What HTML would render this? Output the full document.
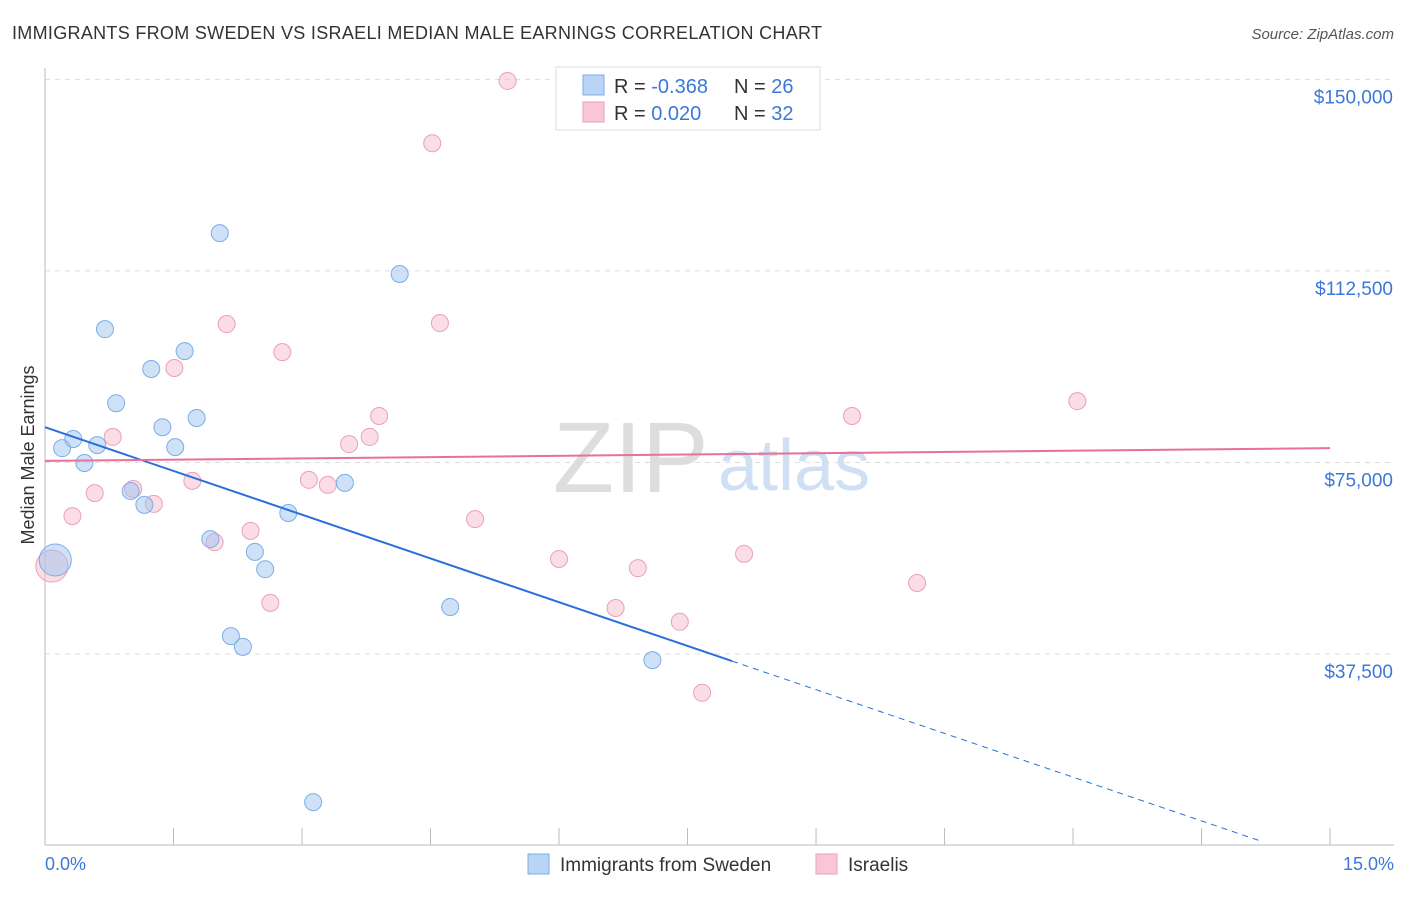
<!DOCTYPE html>
<html><head><meta charset="utf-8"><style>
body{margin:0;background:#fff;font-family:"Liberation Sans",sans-serif;}
svg text{font-family:"Liberation Sans",sans-serif;}
</style></head><body>
<svg id="c" width="1406" height="892" xmlns="http://www.w3.org/2000/svg">
<text x="12" y="39" font-size="18" fill="#333" textLength="810">IMMIGRANTS FROM SWEDEN VS ISRAELI MEDIAN MALE EARNINGS CORRELATION CHART</text>
<text x="1394" y="39" font-size="15" fill="#555" font-style="italic" text-anchor="end">Source: ZipAtlas.com</text>
<text x="553" y="492" font-size="100" fill="#ddd" font-family="Liberation Serif">ZIP</text>
<text x="718" y="490" font-size="72" fill="#cfe0f5">atlas</text>
<g id="grid"></g><g id="marks"></g>
<text transform="translate(34,455) rotate(-90)" font-size="18" fill="#333" text-anchor="middle">Median Male Earnings</text>
<text x="45" y="870" font-size="18" fill="#3b78d8">0.0%</text>
<text x="1394" y="870" font-size="18" fill="#3b78d8" text-anchor="end">15.0%</text>
<g>
<rect x="556" y="67" width="264" height="63" fill="#fff" stroke="#ddd"/>
<rect x="583" y="75" width="21" height="20" fill="#b9d4f5" stroke="#7aaee8"/>
<rect x="583" y="102" width="21" height="20" fill="#f9c6d5" stroke="#eaa0b8"/>
<text x="614" y="93" font-size="20" fill="#333">R = <tspan fill="#3b78d8">-0.368</tspan></text>
<text x="734" y="93" font-size="20" fill="#333">N = <tspan fill="#3b78d8">26</tspan></text>
<text x="614" y="120" font-size="20" fill="#333">R = <tspan fill="#3b78d8"> 0.020</tspan></text>
<text x="734" y="120" font-size="20" fill="#333">N = <tspan fill="#3b78d8">32</tspan></text>
</g>
<g>
<rect x="528" y="854" width="21" height="20" fill="#b9d4f5" stroke="#7aaee8"/>
<text x="560" y="871" font-size="19" fill="#333">Immigrants from Sweden</text>
<rect x="816" y="854" width="21" height="20" fill="#f9c6d5" stroke="#eaa0b8"/>
<text x="848" y="871" font-size="19" fill="#333">Israelis</text>
</g>
</svg>
<script>
const yTicks=[37500,75000,112500,150000];
const yTickLabels=["$37,500","$75,000","$112,500","$150,000"];
const xTicks=[0,1.5,3,4.5,6,7.5,9,10.5,12,13.5,15];
const swedenX=[0.12,0.20,0.33,0.46,0.61,0.70,0.83,1.00,1.16,1.24,1.37,1.52,1.63,1.77,1.93,2.04,2.17,2.31,2.45,2.57,2.84,3.13,3.50,4.14,4.73,7.09];
const swedenY=[55900,77800,79600,74900,78400,101100,86600,69400,66700,93300,81900,78000,96800,83700,60000,119900,41000,38900,57500,54100,65100,8500,71000,111900,46700,36300];
const israelX=[0.08,0.32,0.58,0.79,1.03,1.27,1.51,1.72,1.98,2.12,2.40,2.63,2.77,3.08,3.30,3.55,3.79,3.90,4.52,4.61,5.02,5.40,6.00,6.66,6.92,7.41,7.67,8.16,9.42,10.18,12.05];
const israelY=[54700,64500,69000,80000,69800,66900,93500,71400,59400,102100,61600,47500,96600,71600,70600,78600,80000,84100,137500,102300,63900,149700,56100,46500,54300,43800,29900,57100,84100,51400,87000];
const swedenTrend=[81900,-5710];
const israelTrend=[75300,166.7];
const NS="http://www.w3.org/2000/svg";
const X=v=>45+v*85.67, Y=v=>845.5-v/195.8;
function mk(tag,at,p){const e=document.createElementNS(NS,tag);for(const k in at)e.setAttribute(k,at[k]);p.appendChild(e);return e;}
const g=document.getElementById('grid'), m=document.getElementById('marks');
yTicks.forEach((t,i)=>{
 const l=mk('line',{x1:45,x2:1394,y1:Y(t),y2:Y(t),stroke:'#ddd','stroke-dasharray':'5,5'},g);
 
 
 const tx=mk('text',{x:1393,y:Y(t)+24,'font-size':19,fill:'#3b78d8','text-anchor':'end'},g);
 tx.textContent=yTickLabels[i];
 
 
});
const ax=mk('line',{x1:45,x2:1394,y1:845,y2:845,stroke:'#bbb'},g);


const ay=mk('line',{x1:45,x2:45,y1:68,y2:845,stroke:'#bbb'},g);


xTicks.forEach(t=>{
 const l=mk('line',{x1:X(t),x2:X(t),y1:828,y2:845,stroke:'#bbb'},g);
 
 
});
function pts(xs,ys,fill,stroke,name){
 xs.forEach((x,i)=>{
  const c=mk('circle',{cx:X(x),cy:Y(ys[i]),r:i==0?16:8.5,fill:fill,stroke:stroke,'stroke-width':1},m);
  
  
 });
}
pts(israelX,israelY,'rgba(246,180,200,0.45)','#eaa0b8','israel-point');
pts(swedenX,swedenY,'rgba(160,196,240,0.5)','#7aaee8','sweden-point');
const sEnd=8.02;
const bl=mk('line',{x1:X(0),y1:Y(swedenTrend[0]),x2:X(sEnd),y2:Y(swedenTrend[0]+swedenTrend[1]*sEnd),stroke:'#2a6fdb','stroke-width':2},m);


const xEnd=14.2;
const bd=mk('line',{x1:X(sEnd),y1:Y(swedenTrend[0]+swedenTrend[1]*sEnd),x2:X(xEnd),y2:Y(swedenTrend[0]+swedenTrend[1]*xEnd),stroke:'#2a6fdb','stroke-width':1,'stroke-dasharray':'6,5'},m);


const pl=mk('line',{x1:X(0),y1:Y(israelTrend[0]),x2:X(15),y2:Y(israelTrend[0]+israelTrend[1]*15),stroke:'#e8709a','stroke-width':2},m);


</script>
</body></html>
